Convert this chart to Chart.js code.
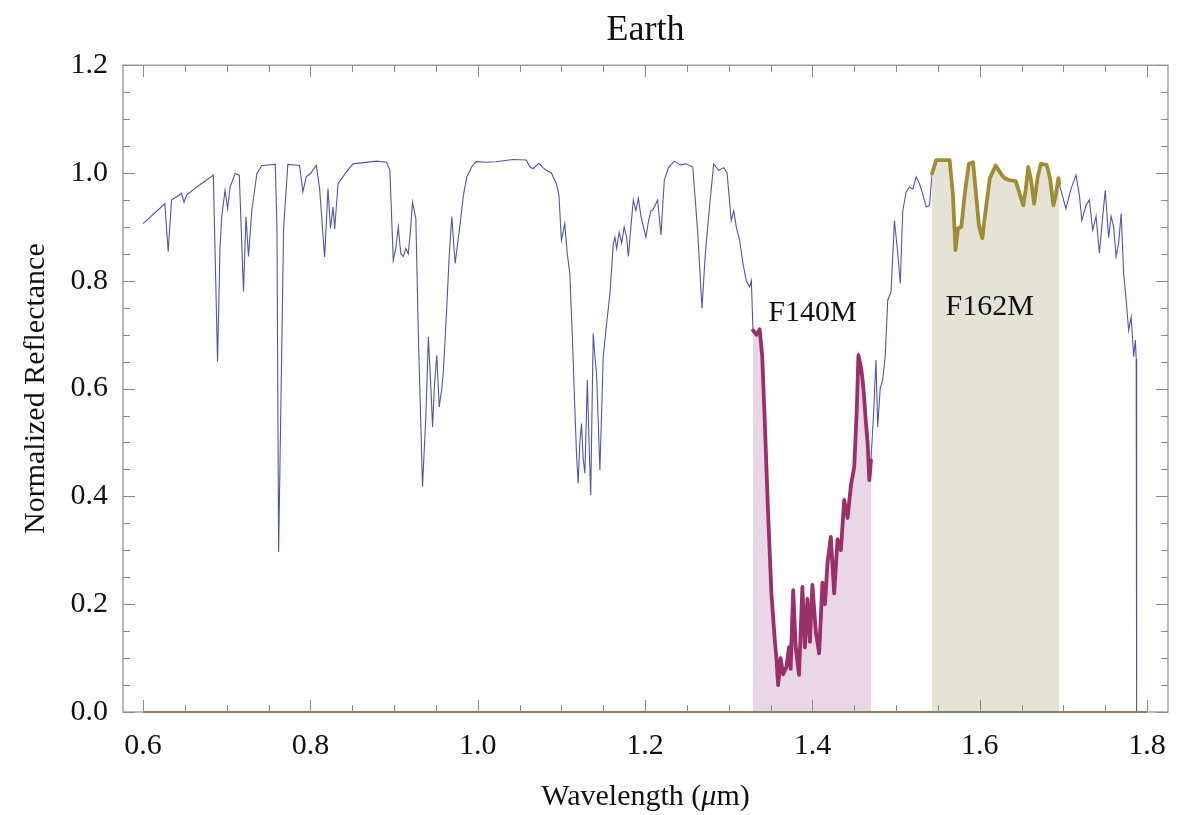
<!DOCTYPE html>
<html>
<head>
<meta charset="utf-8">
<script src="https://cdn.jsdelivr.net/npm/chart.js@4/dist/chart.umd.min.js"></script>
<style>
  html, body { margin: 0; padding: 0; background: #fff; }
  #wrap { width: 1192px; height: 815px; }
</style>
</head>
<body>
<div id="wrap"><canvas id="c" width="1192" height="815"></canvas></div>
<script>
// spectrum
const wavelength = [
  0.600, 0.626, 0.630, 0.634, 0.646, 0.649, 0.652, 0.665, 0.684, 0.689, 0.692, 0.694, 0.698, 0.701, 0.704,
  0.710, 0.715, 0.720, 0.723, 0.726, 0.730, 0.736, 0.742, 0.758, 0.760, 0.762, 0.765, 0.768, 0.773, 0.787,
  0.791, 0.795, 0.800, 0.807, 0.811, 0.817, 0.821, 0.824, 0.827, 0.829, 0.833, 0.843, 0.851, 0.879, 0.891,
  0.895, 0.899, 0.902, 0.905, 0.908, 0.911, 0.914, 0.917, 0.920, 0.922, 0.926, 0.929, 0.934, 0.938, 0.941,
  0.944, 0.946, 0.948, 0.951, 0.954, 0.957, 0.959, 0.963, 0.966, 0.969, 0.973, 0.976, 0.979, 0.983, 0.987,
  0.993, 0.998, 1.010, 1.022, 1.042, 1.058, 1.062, 1.066, 1.073, 1.078, 1.082, 1.088, 1.094, 1.097, 1.100,
  1.104, 1.107, 1.110, 1.113, 1.116, 1.118, 1.120, 1.122, 1.124, 1.126, 1.128, 1.131, 1.133, 1.135, 1.138,
  1.140, 1.142, 1.146, 1.150, 1.154, 1.158, 1.162, 1.164, 1.166, 1.169, 1.172, 1.175, 1.178, 1.180, 1.183,
  1.186, 1.189, 1.192, 1.195, 1.198, 1.201, 1.204, 1.207, 1.209, 1.212, 1.215, 1.219, 1.223, 1.228, 1.235,
  1.242, 1.249, 1.257, 1.260, 1.263, 1.268, 1.272, 1.277, 1.282, 1.288, 1.294, 1.298, 1.303, 1.306, 1.309,
  1.313, 1.317, 1.321, 1.325, 1.327, 1.329, 1.333, 1.337, 1.340, 1.343, 1.347, 1.351, 1.355, 1.357, 1.359,
  1.362, 1.365, 1.369, 1.372, 1.374, 1.377, 1.380, 1.384, 1.388, 1.391, 1.394, 1.397, 1.400, 1.404, 1.408,
  1.412, 1.415, 1.418, 1.422, 1.426, 1.430, 1.434, 1.438, 1.442, 1.446, 1.450, 1.453, 1.455, 1.458, 1.460,
  1.462, 1.464, 1.466, 1.468, 1.470, 1.473, 1.476, 1.478, 1.481, 1.484, 1.487, 1.490, 1.494, 1.498, 1.502,
  1.505, 1.508, 1.512, 1.516, 1.520, 1.524, 1.528, 1.532, 1.536, 1.540, 1.543, 1.548, 1.556, 1.564, 1.568,
  1.571, 1.574, 1.578, 1.582, 1.587, 1.592, 1.595, 1.599, 1.603, 1.607, 1.612, 1.619, 1.626, 1.630, 1.635,
  1.643, 1.648, 1.652, 1.655, 1.658, 1.661, 1.665, 1.669, 1.673, 1.680, 1.684, 1.688, 1.691, 1.694, 1.695,
  1.703, 1.709, 1.715, 1.719, 1.722, 1.727, 1.731, 1.735, 1.739, 1.743, 1.747, 1.750, 1.754, 1.757, 1.760,
  1.763, 1.766, 1.769, 1.772, 1.775, 1.778, 1.781, 1.784, 1.786, 1.787, 1.7875, 1.800
];
const reflectance = [
  0.906, 0.943, 0.854, 0.950, 0.962, 0.946, 0.959, 0.975, 0.996, 0.650, 0.863, 0.919, 0.968, 0.934, 0.974,
  0.999, 0.996, 0.780, 0.919, 0.845, 0.931, 0.999, 1.014, 1.016, 0.900, 0.297, 0.600, 0.900, 1.016, 1.014,
  0.965, 0.993, 0.999, 1.014, 0.971, 0.844, 0.971, 0.897, 0.937, 0.896, 0.980, 1.002, 1.017, 1.022, 1.020,
  1.005, 0.838, 0.860, 0.900, 0.850, 0.845, 0.860, 0.850, 0.900, 0.946, 0.916, 0.700, 0.418, 0.550, 0.696,
  0.600, 0.529, 0.600, 0.662, 0.566, 0.600, 0.634, 0.752, 0.850, 0.919, 0.832, 0.870, 0.906, 0.960, 0.993,
  1.012, 1.021, 1.020, 1.021, 1.025, 1.024, 1.012, 1.008, 1.018, 1.010, 1.005, 1.000, 0.980, 0.960, 0.875,
  0.906, 0.850, 0.814, 0.700, 0.566, 0.480, 0.424, 0.500, 0.535, 0.470, 0.443, 0.616, 0.500, 0.402, 0.702,
  0.660, 0.628, 0.449, 0.659, 0.720, 0.776, 0.869, 0.881, 0.860, 0.890, 0.870, 0.900, 0.880, 0.845, 0.900,
  0.950, 0.930, 0.953, 0.920, 0.900, 0.881, 0.910, 0.930, 0.931, 0.940, 0.950, 0.885, 0.987, 1.010, 1.022,
  1.015, 1.017, 1.011, 0.950, 0.888, 0.749, 0.850, 0.937, 1.017, 1.005, 1.010, 1.000, 0.912, 0.930, 0.900,
  0.875, 0.832, 0.800, 0.789, 0.800, 0.708, 0.700, 0.710, 0.660, 0.542, 0.369, 0.220, 0.134, 0.100, 0.050,
  0.100, 0.070, 0.084, 0.120, 0.080, 0.226, 0.121, 0.069, 0.232, 0.120, 0.210, 0.130, 0.236, 0.150, 0.109,
  0.240, 0.200, 0.276, 0.325, 0.220, 0.320, 0.300, 0.393, 0.360, 0.420, 0.455, 0.560, 0.662, 0.640, 0.616,
  0.580, 0.535, 0.500, 0.430, 0.467, 0.550, 0.653, 0.529, 0.600, 0.616, 0.660, 0.764, 0.780, 0.912, 0.851,
  0.795, 0.930, 0.965, 0.974, 0.970, 0.993, 0.980, 0.960, 0.937, 0.940, 0.999, 1.024, 1.024, 1.024, 0.959,
  0.857, 0.897, 0.900, 0.960, 1.017, 1.020, 0.970, 0.903, 0.879, 0.930, 0.990, 1.014, 0.997, 0.990, 0.987,
  0.985, 0.960, 0.940, 0.970, 1.011, 0.990, 0.943, 0.990, 1.017, 1.015, 0.990, 0.940, 0.960, 0.990, 0.980,
  0.934, 0.970, 0.996, 0.960, 0.912, 0.940, 0.950, 0.894, 0.920, 0.851, 0.920, 0.968, 0.880, 0.920, 0.900,
  0.845, 0.870, 0.925, 0.814, 0.764, 0.708, 0.733, 0.659, 0.690, 0.655, 0, 0
];

// filter bands
const bandNames = ['F140M', 'F162M'];
const bandLo = [1.329, 1.543];
const bandHi = [1.470, 1.695];
const bandLabelX = [1.400, 1.612];
const bandLabelY = [0.740, 0.751];

const xTicks = [0.6, 0.8, 1.0, 1.2, 1.4, 1.6, 1.8];
const yTicks = [0.0, 0.2, 0.4, 0.6, 0.8, 1.0, 1.2];
const baseline = [[0.6, 0], [1.8, 0]];

const serif = '"Liberation Serif", "DejaVu Serif", serif';
const lineCols = ['#9a2f6a', '#a08c32'];
const fillCols = ['#e9d7e5', '#e5e3d6'];

const spectrum = wavelength.map((w, i) => ({x: w, y: reflectance[i]}));
const bandPoints = (lo, hi) => spectrum.filter(p => p.x >= lo && p.x <= hi);

const datasets = [{
  data: spectrum,
  borderColor: '#5155a8',
  borderWidth: 1.1,
  order: 3
}];
bandNames.forEach((name, i) => {
  datasets.push({
    label: name,
    data: bandPoints(bandLo[i], bandHi[i]),
    borderColor: lineCols[i],
    backgroundColor: fillCols[i],
    borderWidth: 3.8,
    borderJoinStyle: 'round',
    borderCapStyle: 'round',
    fill: 'origin',
    order: 2
  });
});
datasets.push({
  data: baseline.map(p => ({x: p[0], y: p[1]})),
  borderColor: '#86693a',
  borderWidth: 2.2,
  order: 0
});
datasets.forEach(d => { d.showLine = true; d.pointRadius = 0; d.clip = 4; });

// mathematica-like frame with inward ticks on all four sides
const frameTicks = {
  id: 'frameTicks',
  afterDatasetsDraw(chart) {
    const {ctx, chartArea: a, scales: {x, y}} = chart;
    ctx.save();
    ctx.strokeStyle = '#8a8a8a';
    ctx.lineWidth = 1.2;
    ctx.strokeRect(a.left, a.top, a.right - a.left, a.bottom - a.top);
    ctx.lineWidth = 1;
    ctx.beginPath();
    for (let k = 12; k <= 36; k++) {
      const v = k * 0.05, px = Math.round(x.getPixelForValue(v)) + 0.5;
      const len = k % 4 === 0 ? 12 : 7;
      ctx.moveTo(px, a.bottom); ctx.lineTo(px, a.bottom - len);
      ctx.moveTo(px, a.top); ctx.lineTo(px, a.top + len);
    }
    for (let k = 0; k <= 24; k++) {
      const v = k * 0.05, py = Math.round(y.getPixelForValue(v)) + 0.5;
      const len = k % 4 === 0 ? 12 : 7;
      ctx.moveTo(a.left, py); ctx.lineTo(a.left + len, py);
      ctx.moveTo(a.right, py); ctx.lineTo(a.right - len, py);
    }
    ctx.stroke();

    ctx.fillStyle = '#111';
    ctx.font = '30px ' + serif;
    ctx.textAlign = 'center';
    ctx.textBaseline = 'middle';
    bandNames.forEach((name, i) => {
      ctx.fillText(name, x.getPixelForValue(bandLabelX[i]), y.getPixelForValue(bandLabelY[i]));
    });

    // x axis title, with an italic mu
    const parts = [['Wavelength (', ''], ['μ', 'italic '], ['m)', '']];
    const widths = parts.map(p => { ctx.font = p[1] + '30px ' + serif; return ctx.measureText(p[0]).width; });
    let cx = (a.left + a.right) / 2 - widths.reduce((s, w) => s + w, 0) / 2;
    ctx.textAlign = 'left';
    parts.forEach((p, i) => {
      ctx.font = p[1] + '30px ' + serif;
      ctx.fillText(p[0], cx, 797);
      cx += widths[i];
    });
    ctx.restore();
  }
};

new Chart(document.getElementById('c'), {
  type: 'scatter',
  data: {datasets: datasets},
  options: {
    responsive: false,
    animation: false,
    layout: {padding: {left: 0, right: 24, top: 0, bottom: 0}},
    plugins: {
      legend: {display: false},
      tooltip: {enabled: false},
      title: {
        display: true,
        text: 'Earth',
        fullSize: false,
        color: '#111',
        font: {family: serif, size: 36, weight: 'normal'},
        padding: {top: 9, bottom: 13}
      }
    },
    scales: {
      x: {
        type: 'linear',
        min: 0.576,
        max: 1.825,
        afterBuildTicks: s => { s.ticks = xTicks.map(v => ({value: v})); },
        afterFit: s => { s.height = 103; },
        grid: {display: false, drawTicks: false},
        border: {display: false},
        ticks: {
          padding: 16,
          color: '#111',
          font: {family: serif, size: 30},
          callback: v => v.toFixed(1)
        }
      },
      y: {
        type: 'linear',
        min: 0,
        max: 1.2,
        afterBuildTicks: s => { s.ticks = yTicks.map(v => ({value: v})); },
        afterFit: s => { s.width = 123; },
        grid: {display: false, drawTicks: false},
        border: {display: false},
        ticks: {
          padding: 15,
          color: '#111',
          font: {family: serif, size: 30},
          callback: v => v.toFixed(1)
        },
        title: {
          display: true,
          text: 'Normalized Reflectance',
          color: '#111',
          font: {family: serif, size: 30},
          padding: {top: 18, bottom: 0}
        }
      }
    }
  },
  plugins: [frameTicks]
});
</script>
</body>
</html>
